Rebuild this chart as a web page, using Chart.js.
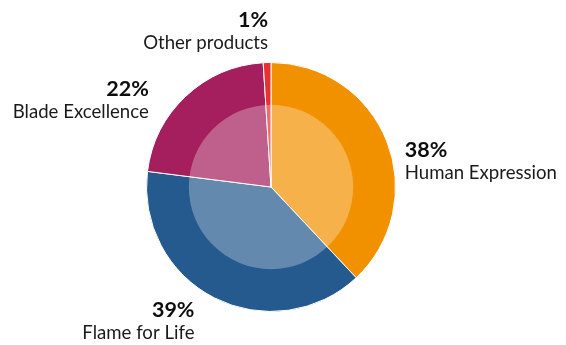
<!DOCTYPE html>
<html>
<head>
<meta charset="utf-8">
<script src="https://cdn.jsdelivr.net/npm/chart.js@4"></script>
<style>
  html, body { margin: 0; padding: 0; background: #fff; }
  #wrap { width: 566px; height: 345px; position: relative; }
</style>
</head>
<body>
<div id="wrap"><canvas id="pieChart"></canvas></div>
<script>
const categories = ['Human Expression', 'Flame for Life', 'Blade Excellence', 'Other products'];
const shares = [38, 39, 22, 1];
const colors = ['#F29100', '#245A8D', '#A51E5D', '#E8322F'];

// label placement relative to the outer edge at each slice's middle angle
const labelOffsets = [
  { dx: 18, dy: 16, align: 'left' },
  { dx: -20, dy: 19, align: 'right' },
  { dx: -37, dy: 0, align: 'right' },
  { dx: 1, dy: -36, align: 'right' }
];

// lighter disc over the middle of the pie
const innerHighlight = {
  id: 'innerHighlight',
  afterDatasetsDraw(chart) {
    const arc = chart.getDatasetMeta(0).data[0];
    if (!arc) return;
    const ctx = chart.ctx;
    ctx.save();
    ctx.fillStyle = 'rgba(255,255,255,0.29)';
    ctx.beginPath();
    ctx.arc(arc.x, arc.y, arc.outerRadius * 0.66, 0, Math.PI * 2);
    ctx.fill();
    ctx.restore();
  }
};

const sliceLabels = {
  id: 'sliceLabels',
  afterDraw(chart) {
    const ctx = chart.ctx;
    const meta = chart.getDatasetMeta(0);
    ctx.save();
    ctx.textBaseline = 'alphabetic';
    meta.data.forEach((arc, i) => {
      const mid = (arc.startAngle + arc.endAngle) / 2;
      const off = labelOffsets[i];
      const x = arc.x + Math.cos(mid) * arc.outerRadius + off.dx;
      const y = arc.y + Math.sin(mid) * arc.outerRadius + off.dy;
      ctx.textAlign = off.align;
      ctx.fillStyle = '#0d0d0d';
      ctx.font = 'bold 21.5px Lato';
      ctx.fillText(shares[i] + '%', x, y);
      ctx.fillStyle = '#1a1a1a';
      ctx.font = '18.6px Lato';
      ctx.fillText(categories[i], x, y + 22);
    });
    ctx.restore();
  }
};

const ctx = document.getElementById('pieChart').getContext('2d');
new Chart(ctx, {
  type: 'pie',
  data: {
    labels: categories,
    datasets: [{
      data: shares,
      backgroundColor: colors,
      borderColor: '#fff',
      borderWidth: 1
    }]
  },
  options: {
    responsive: true,
    maintainAspectRatio: false,
    animation: false,
    layout: { padding: { left: 146, right: 170, top: 62, bottom: 33 } },
    plugins: {
      legend: { display: false },
      tooltip: { enabled: false }
    }
  },
  plugins: [innerHighlight, sliceLabels]
});
</script>
</body>
</html>
